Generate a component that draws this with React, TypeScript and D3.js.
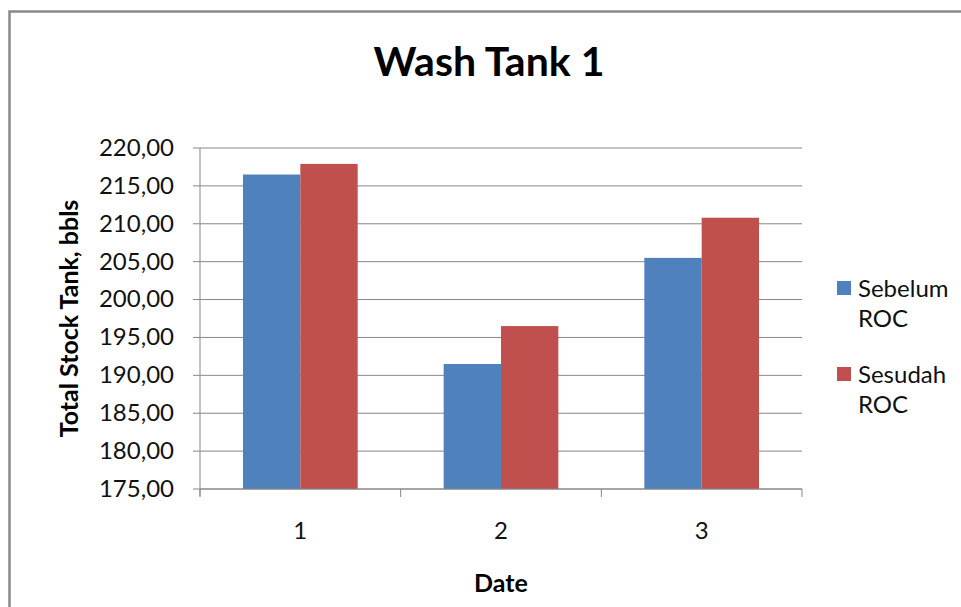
import React from "react";
import * as d3 from "d3";

// Chart data
const categories = ["1", "2", "3"];
const seriesNames = ["Sebelum ROC", "Sesudah ROC"];
const sebelum = [216.5, 191.5, 205.5];
const sesudah = [217.9, 196.5, 210.8];
const yTicks = [175, 180, 185, 190, 195, 200, 205, 210, 215, 220];
const colors = ["#4F81BD", "#C0504D"];

const W = 961;
const H = 607;
const plot = { left: 200, right: 802, top: 148, bottom: 489 };
const FONT = "Lato, 'Open Sans', sans-serif";

export default function App() {
  const x0 = d3
    .scaleBand<string>()
    .domain(categories)
    .range([plot.left, plot.right])
    .paddingInner(0)
    .paddingOuter(0);
  const x1 = d3
    .scaleBand<string>()
    .domain(seriesNames)
    .range([0, x0.bandwidth()])
    .paddingInner(0)
    .paddingOuter(0.75);
  const y = d3
    .scaleLinear()
    .domain([175, 220])
    .range([plot.bottom, plot.top]);

  const fmt = (v: number) => d3.format(".2f")(v).replace(".", ",");
  const values = [sebelum, sesudah];
  const gridColor = "#878787";

  const legendRows = [
    { lines: ["Sebelum", "ROC"], top: 281 },
    { lines: ["Sesudah", "ROC"], top: 367 },
  ];

  return (
    <svg
      width={W}
      height={H}
      style={{ position: "absolute", left: 0, top: 0, background: "#fff" }}
      fontFamily={FONT}
    >
      <rect x={0} y={0} width={W} height={H} fill="#fff" />
      {/* chart frame */}
      <path d={`M9.5,${H + 2} V11.5 H${W + 2}`} fill="none" stroke="#8a8a8a" strokeWidth={2.5} />

      {/* title */}
      <text x={489} y={76} textAnchor="middle" fontSize={41} fontWeight="bold" fill="#000">
        Wash Tank 1
      </text>

      {/* horizontal gridlines and y ticks */}
      {yTicks.map((t) => (
        <g key={t}>
          <line x1={plot.left - 7} x2={plot.right} y1={y(t)} y2={y(t)} stroke={gridColor} strokeWidth={1} />
          <text x={174} y={y(t)} dy="0.33em" textAnchor="end" fontSize={24} fill="#111">
            {fmt(t)}
          </text>
        </g>
      ))}

      {/* bars */}
      {categories.map((c, i) => (
        <g key={c} transform={`translate(${x0(c)},0)`}>
          {seriesNames.map((s, j) => (
            <rect
              key={s}
              x={x1(s)}
              y={y(values[j][i])}
              width={x1.bandwidth()}
              height={plot.bottom - y(values[j][i])}
              fill={colors[j]}
            />
          ))}
        </g>
      ))}

      {/* axes */}
      <line x1={plot.left} x2={plot.left} y1={plot.top} y2={plot.bottom + 7} stroke={gridColor} strokeWidth={1} />
      <line x1={plot.left} x2={plot.right} y1={plot.bottom} y2={plot.bottom} stroke={gridColor} strokeWidth={1} />
      {[...categories.map((c) => x0(c) as number), plot.right].map((xv, i) => (
        <line key={i} x1={xv} x2={xv} y1={plot.bottom} y2={plot.bottom + 8} stroke={gridColor} strokeWidth={1} />
      ))}
      {categories.map((c) => (
        <text
          key={c}
          x={(x0(c) as number) + x0.bandwidth() / 2}
          y={539}
          textAnchor="middle"
          fontSize={24}
          fill="#111"
        >
          {c}
        </text>
      ))}

      {/* axis titles */}
      <text x={501} y={592} textAnchor="middle" fontSize={25} fontWeight="bold" fill="#000">
        Date
      </text>
      <text
        transform={`translate(78,${(plot.top + plot.bottom) / 2}) rotate(-90)`}
        textAnchor="middle"
        fontSize={25}
        fontWeight="bold"
        fill="#000"
      >
        Total Stock Tank, bbls
      </text>

      {/* legend */}
      {legendRows.map((r, j) => (
        <g key={j}>
          <rect x={837} y={r.top} width={14} height={14} fill={colors[j]} />
          {r.lines.map((ln, k) => (
            <text key={k} x={858} y={r.top + 16 + k * 30} fontSize={24} fill="#111">
              {ln}
            </text>
          ))}
        </g>
      ))}
    </svg>
  );
}
